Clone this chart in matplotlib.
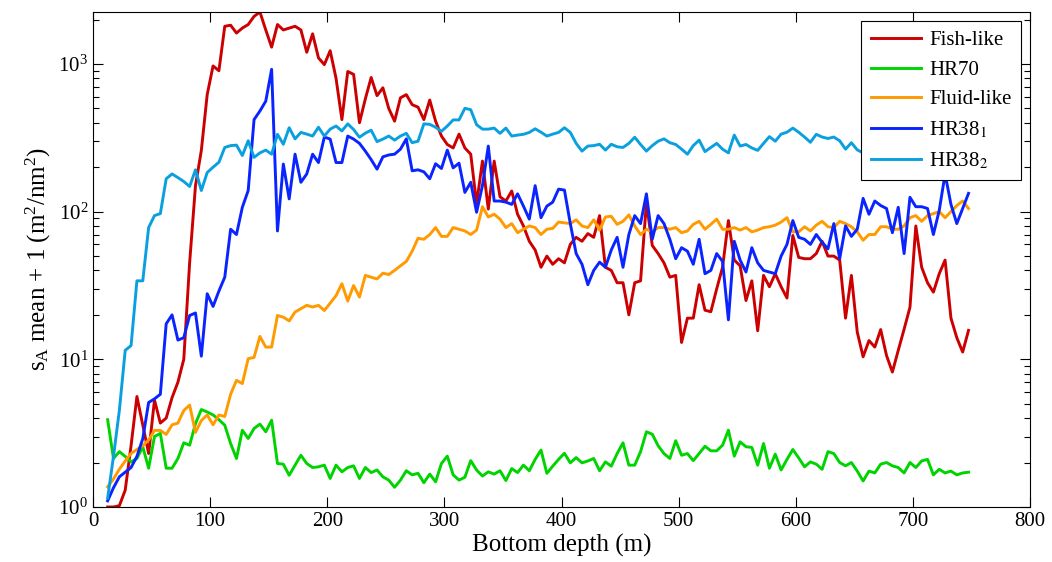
import numpy as np
import matplotlib
matplotlib.use('Agg')
import matplotlib.pyplot as plt

# bottom depth bins (m), one value per 5 m bin
depth = np.arange(12.5, 750, 5)

fish_like = [1.0, 1.0, 1.02, 1.3, 2.6, 5.6, 3.6, 2.3, 5.3, 3.7,
             4.0, 5.5, 7.0, 10, 45, 150, 260, 620, 970, 900,
             1800, 1830, 1620, 1750, 1850, 2100, 2250, 1700, 1300, 1850,
             1700, 1750, 1800, 1700, 1200, 1600, 1100, 990, 1230, 800,
             420, 890, 850, 400, 580, 810, 610, 690, 500, 410,
             590, 620, 530, 510, 420, 570, 410, 325, 285, 270,
             335, 270, 245, 113, 220, 104, 220, 126, 118, 138,
             96, 80, 63, 55, 42, 50, 44, 48, 45, 60,
             67, 63, 71, 67, 94, 42, 40, 33, 33, 20,
             33, 34, 115, 59, 52, 45, 36, 37, 13, 19,
             19, 32, 21.5, 21, 30, 42, 87, 47, 43, 25,
             34, 15.6, 37, 31, 38, 31, 26, 69, 49, 48,
             48, 52, 63, 50, 50, 47, 19, 37, 15.3, 10.4,
             13.4, 12.1, 15.9, 10.6, 8.2, 11.5, 16, 22.5, 80, 42,
             33, 28.5, 38, 47, 19, 14, 11.2, 15.7]

hr70 = [3.9, 2.13, 2.37, 2.2, 2.02, 2.13, 2.56, 1.83, 3.0, 3.15,
        1.83, 1.83, 2.13, 2.72, 2.62, 3.67, 4.57, 4.4, 4.2, 3.9,
        3.58, 2.69, 2.13, 3.31, 2.91, 3.4, 3.64, 3.23, 3.87, 1.97,
        1.95, 1.64, 1.92, 2.24, 1.97, 1.85, 1.87, 1.92, 1.56, 1.92,
        1.73, 1.85, 1.9, 1.56, 1.85, 1.71, 1.78, 1.6, 1.52, 1.36,
        1.52, 1.76, 1.65, 1.69, 1.46, 1.67, 1.48, 1.97, 2.21, 1.65,
        1.52, 1.59, 2.06, 1.78, 1.62, 1.73, 1.67, 1.76, 1.51, 1.82,
        1.71, 1.92, 1.76, 2.1, 2.43, 1.69, 1.89, 2.1, 2.31, 1.99,
        2.16, 1.99, 2.05, 2.13, 1.76, 2.02, 1.89, 2.3, 2.72, 1.92,
        1.92, 2.37, 3.23, 3.11, 2.6, 2.3, 2.13, 2.81, 2.24, 2.3,
        2.06, 2.3, 2.58, 2.4, 2.4, 2.62, 3.31, 2.21, 2.76, 2.56,
        2.53, 1.92, 2.69, 1.83, 2.28, 1.78, 2.1, 2.45, 2.15, 1.87,
        2.02, 1.95, 1.8, 2.37, 2.3, 2.0, 1.9, 2.0, 1.75, 1.5,
        1.75, 1.7, 1.95, 2.0, 1.9, 1.85, 1.7, 2.0, 1.85, 2.05,
        2.1, 1.65, 1.8, 1.7, 1.75, 1.65, 1.7, 1.72]

fluid_like = [1.37, 1.55, 1.8, 2.05, 2.3, 2.45, 2.6, 2.84, 3.3, 3.3,
              3.1, 3.6, 3.7, 4.5, 4.9, 3.2, 3.85, 4.2, 3.6, 4.2,
              4.1, 5.8, 7.2, 6.85, 10.1, 10.3, 14.3, 12.1, 12.1, 19.8,
              19.3, 18.2, 20.9, 22, 23.2, 22.6, 23.2, 21.4, 24, 27,
              32.5, 24.8, 31.6, 26.4, 37, 36, 35, 38.3, 37.5, 40,
              43, 46, 54, 66, 65, 70, 78, 68, 68, 78,
              76, 74, 70, 75, 108, 92, 96, 89, 78, 83,
              72, 76, 80, 78, 70, 76, 77, 85, 84, 83,
              88, 80, 78, 88, 75, 92, 93, 82, 86, 95,
              80, 70, 76, 73, 78, 78, 76, 78, 72, 74,
              82, 86, 76, 82, 89, 76, 76, 78, 75, 78,
              73, 75, 78, 79, 81, 85, 91, 73, 73, 79,
              74, 81, 86, 79, 78, 86, 83, 79, 73, 64,
              70, 70, 79, 79, 76, 76, 80, 91, 94, 86,
              94, 97, 100, 91, 100, 110, 118, 105]

hr38_1 = [1.1, 1.35, 1.6, 1.72, 1.85, 2.2, 2.9, 5.1, 5.4, 5.8,
          17.4, 20, 13.5, 14, 19.8, 20.6, 10.5, 27.8, 22.8, 29,
          36, 76, 70, 107, 139, 420, 480, 560, 920, 74,
          210, 122, 245, 158, 180, 245, 215, 320, 310, 215,
          215, 325, 310, 290, 257, 225, 194, 235, 242, 245,
          265, 311, 189, 192, 186, 167, 211, 196, 261, 198,
          213, 135, 158, 99, 150, 278, 118, 118, 116, 112,
          132, 109, 89, 150, 91, 109, 116, 142, 140, 83,
          52, 44, 32, 40, 45.5, 42, 55, 67, 42, 70,
          94, 83, 132, 65, 94, 83, 65, 48, 57, 54,
          44, 65, 38, 40, 52, 46, 18.5, 63, 47, 39,
          57, 45, 40, 39, 38, 50, 60, 87, 67, 65,
          60, 70, 62, 56, 83, 48, 80, 68, 76, 123,
          96, 118, 110, 105, 72, 107, 52, 125, 108, 108,
          105, 70, 102, 180, 112, 83, 105, 133]

hr38_2 = [1.15, 2.2, 4.5, 11.5, 12.4, 34, 34, 78, 94, 97,
          167, 180, 170, 160, 148, 192, 139, 184, 200, 216,
          272, 280, 282, 240, 302, 233, 250, 261, 245, 334,
          286, 370, 311, 344, 335, 325, 373, 325, 362, 380,
          352, 393, 360, 319, 340, 356, 298, 310, 325, 305,
          325, 339, 293, 300, 393, 390, 373, 350, 380, 418,
          418, 501, 490, 388, 362, 362, 368, 339, 368, 325,
          330, 334, 344, 364, 345, 325, 335, 344, 370, 344,
          290, 257, 278, 280, 286, 261, 286, 275, 272, 290,
          319, 285, 257, 280, 300, 311, 293, 285, 265, 245,
          280, 305, 255, 272, 290, 265, 250, 330, 278, 285,
          270, 260, 290, 322, 300, 335, 345, 368, 345, 320,
          295, 334, 320, 313, 320, 302, 265, 293, 262, 250,
          255, 260, 250, 258, 262, 255, 250, 260, 265, 258,
          252, 262, 268, 260, 255, 262, 258, 255]

labels = ['Fish-like', 'HR70', 'Fluid-like', 'HR38$_1$', 'HR38$_2$']
colors = ['#cc0000', '#00d400', '#ff9a00', '#0a24ff', '#0aa0e0']

plt.rcParams['font.family'] = ['Liberation Serif', 'DejaVu Serif']
plt.rcParams['mathtext.fontset'] = 'stix'

fig = plt.figure(figsize=(10.52, 5.62), dpi=100)
ax = fig.add_axes([0.0884, 0.0979, 0.8907, 0.8808])

for series, lab, col in zip([fish_like, hr70, fluid_like, hr38_1, hr38_2], labels, colors):
    ax.semilogy(depth, series, color=col, lw=2.1, label=lab)

ax.set_xlim(0, 800)
ax.set_ylim(1, 2250)
ax.set_xticks(np.arange(0, 801, 100))
ax.tick_params(which='both', direction='in', top=True, right=True, labelsize=15)
ax.tick_params(which='major', length=7.5, width=0.8)
ax.tick_params(which='minor', length=4.5, width=0.8)
for s in ax.spines.values():
    s.set_linewidth(0.8)

ax.set_xlabel('Bottom depth (m)', fontsize=18, labelpad=2)
ax.set_ylabel(r'$\mathregular{s_A}$ mean + 1 (m$\mathregular{^2}$/nm$\mathregular{^2}$)', fontsize=18, labelpad=4)

# legend box
leg = ax.legend(loc='upper right', fontsize=15, fancybox=False, edgecolor='k', framealpha=1,
                handlelength=2.4, borderaxespad=0.45, labelspacing=0.48, handletextpad=0.4, borderpad=0.45)
leg.get_frame().set_linewidth(0.8)

fig.savefig('out.png', dpi=100)
